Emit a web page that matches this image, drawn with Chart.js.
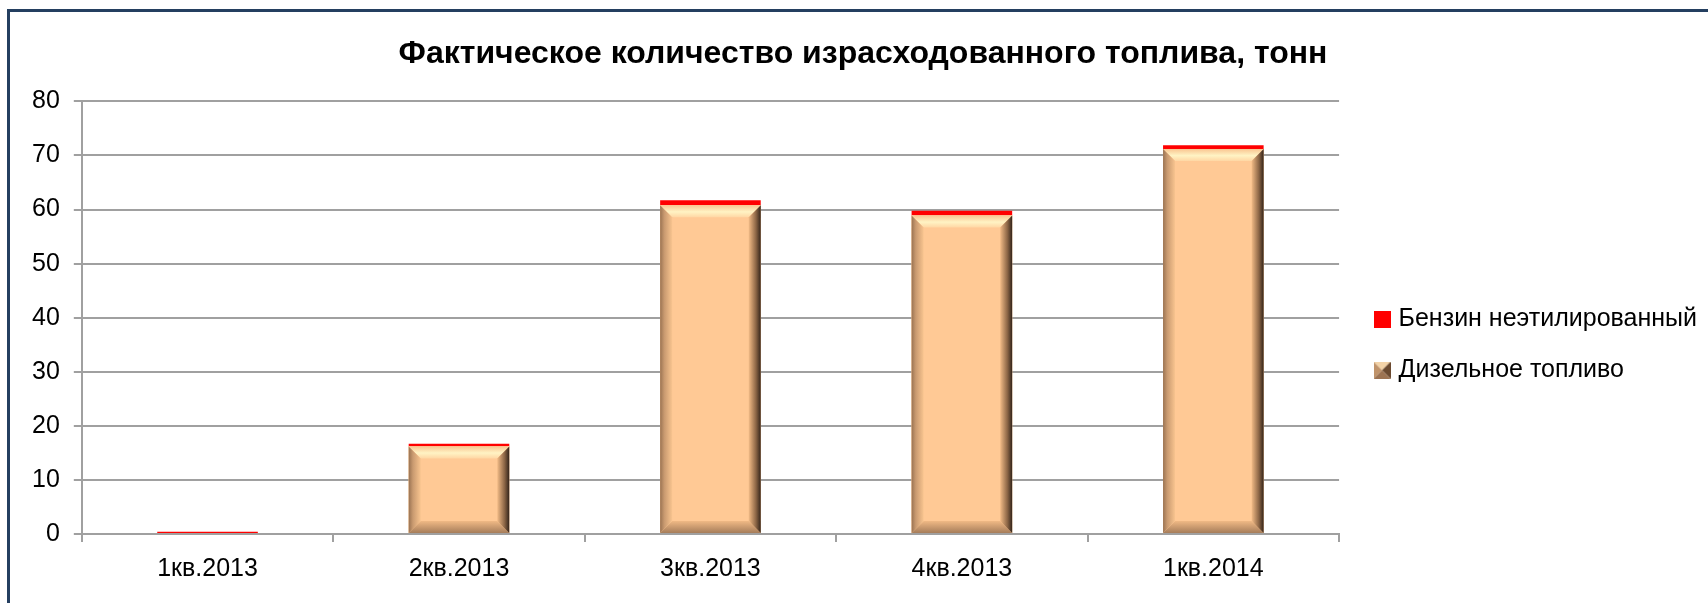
<!DOCTYPE html>
<html>
<head>
<meta charset="utf-8">
<script src="https://cdn.jsdelivr.net/npm/chart.js@4"></script>
<style>
    html, body { margin: 0; padding: 0; background: #fff; overflow: hidden; }
    #wrap { position: absolute; left: 0; top: 0; width: 1708px; height: 603px; }
    #frame {
        position: absolute; left: 7px; top: 9px; width: 1800px; height: 700px;
        border-left: 3px solid #243f60; border-top: 3px solid #243f60;
        pointer-events: none;
    }
</style>
</head>
<body>
<div id="wrap">
    <canvas id="fuelChart" width="1708" height="603"></canvas>
    <div id="frame"></div>
</div>
<script>
// data
const quarters = ['1кв.2013', '2кв.2013', '3кв.2013', '4кв.2013', '1кв.2014'];
const dieselTons = [0, 16.2, 60.8, 58.9, 71.2];
const petrolTons = [0.4, 0.5, 0.9, 0.9, 0.7];
const yTicks = [0, 10, 20, 30, 40, 50, 60, 70, 80];

const FONT = "'Liberation Sans', Arial, sans-serif";
const gridGrey = '#a0a0a0';
const peach = '#ffc995';

// small legend icons
function makeIcon(kind) {
    const c = document.createElement('canvas');
    c.width = 17; c.height = 17;
    const g = c.getContext('2d');
    if (kind === 'red') {
        g.fillStyle = '#ff0000';
        g.fillRect(0, 0, 17, 17);
    } else {
        const s = 17, m = 8.5;
        const tri = (pts, col) => {
            g.beginPath();
            g.moveTo(pts[0], pts[1]); g.lineTo(pts[2], pts[3]); g.lineTo(pts[4], pts[5]);
            g.closePath(); g.fillStyle = col; g.fill();
        };
        tri([0, 0, s, 0, m, m], '#f3d3a8');
        tri([0, 0, 0, s, m, m], '#c0936a');
        tri([s, 0, s, s, m, m], '#6b4a30');
        tri([0, s, s, s, m, m], '#9c7352');
    }
    return c;
}
const legendIcons = [makeIcon('bevel'), makeIcon('red')];

// bevelled look of the diesel bars (drawn on the library's bar elements)
const bevelPlugin = {
    id: 'bevel',
    afterDatasetDraw(chart, args) {
        if (args.index !== 0) return;
        const ctx = chart.ctx;
        args.meta.data.forEach(bar => {
            const p = bar.getProps(['x', 'y', 'base', 'width'], true);
            const h = p.base - p.y;
            if (h < 2) return;
            const l = p.x - p.width / 2, r = p.x + p.width / 2, t = p.y, b = p.base;
            const bv = Math.min(12, p.width / 4, h / 2);
            ctx.save();
            ctx.fillStyle = peach;
            ctx.fillRect(l, t, r - l, b - t);

            const poly = (pts, fill) => {
                ctx.beginPath();
                ctx.moveTo(pts[0][0], pts[0][1]);
                for (let i = 1; i < pts.length; i++) ctx.lineTo(pts[i][0], pts[i][1]);
                ctx.closePath();
                ctx.fillStyle = fill;
                ctx.fill();
            };
            // top highlight
            let g = ctx.createLinearGradient(0, t, 0, t + bv);
            g.addColorStop(0, '#f9c590');
            g.addColorStop(0.55, '#fff3c4');
            g.addColorStop(1, '#ffd7a4');
            poly([[l, t], [r, t], [r - bv, t + bv], [l + bv, t + bv]], g);
            // bottom shade
            g = ctx.createLinearGradient(0, b - bv, 0, b);
            g.addColorStop(0, '#f0b985');
            g.addColorStop(1, '#a67d5a');
            poly([[l, b], [r, b], [r - bv, b - bv], [l + bv, b - bv]], g);
            // left side
            g = ctx.createLinearGradient(l, 0, l + bv, 0);
            g.addColorStop(0, '#9a7352');
            g.addColorStop(0.35, '#c99a70');
            g.addColorStop(1, '#f8c48f');
            poly([[l, t], [l + bv, t + bv], [l + bv, b - bv], [l, b]], g);
            // right side
            g = ctx.createLinearGradient(r - bv, 0, r, 0);
            g.addColorStop(0, '#f2bb86');
            g.addColorStop(0.6, '#8c6646');
            g.addColorStop(1, '#33241a');
            poly([[r, t], [r - bv, t + bv], [r - bv, b - bv], [r, b]], g);
            ctx.restore();
        });
    }
};

// nudge title and legend boxes sideways after layout
const nudgePlugin = {
    id: 'nudge',
    afterLayout(chart) {
        const lg = chart.legend;
        lg.left += 13; lg.right += 13;
        const tb = chart.titleBlock;
        tb.left += 7; tb.right += 7;
    }
};

const ctx = document.getElementById('fuelChart').getContext('2d');
const fuelChart = new Chart(ctx, {
    type: 'bar',
    data: {
        labels: quarters,
        datasets: [
            {
                label: 'Дизельное топливо',
                data: dieselTons,
                backgroundColor: peach,
                borderWidth: 0,
                barPercentage: 0.4,
                categoryPercentage: 1
            },
            {
                label: 'Бензин неэтилированный',
                data: petrolTons,
                backgroundColor: '#ff0000',
                borderWidth: 0,
                barPercentage: 0.4,
                categoryPercentage: 1
            }
        ]
    },
    options: {
        responsive: false,
        animation: false,
        layout: { padding: { left: 18, right: 14, top: 0, bottom: 7 } },
        plugins: {
            title: {
                display: true,
                text: 'Фактическое количество израсходованного топлива, тонн',
                color: '#000',
                font: { family: FONT, size: 32, weight: 'bold' },
                padding: { top: 35, bottom: 28 }
            },
            legend: {
                position: 'right',
                reverse: true,
                title: { display: true, text: '', font: { size: 12 }, padding: { top: 0, bottom: 79 } },
                labels: {
                    color: '#000',
                    font: { family: FONT, size: 25 },
                    usePointStyle: true,
                    pointStyleWidth: 8,
                    padding: 26,
                    generateLabels(chart) {
                        const items = Chart.defaults.plugins.legend.labels.generateLabels(chart);
                        items.forEach(it => { it.pointStyle = legendIcons[it.datasetIndex]; });
                        return items;
                    }
                }
            },
            tooltip: { enabled: false }
        },
        scales: {
            x: {
                stacked: true,
                grid: {
                    offset: true,
                    drawOnChartArea: false,
                    drawTicks: true,
                    tickLength: 8,
                    color: gridGrey,
                    lineWidth: 2
                },
                border: { color: gridGrey, width: 2 },
                ticks: { color: '#000', font: { family: FONT, size: 25 }, padding: 12 }
            },
            y: {
                stacked: true,
                min: yTicks[0],
                max: yTicks[yTicks.length - 1],
                afterBuildTicks(scale) {
                    scale.ticks = yTicks.map(v => ({ value: v }));
                },
                grid: { color: gridGrey, lineWidth: 2, tickLength: 8 },
                border: { color: gridGrey, width: 2 },
                ticks: { color: '#000', font: { family: FONT, size: 25 }, padding: 14 }
            }
        }
    },
    plugins: [bevelPlugin, nudgePlugin]
});
</script>
</body>
</html>
